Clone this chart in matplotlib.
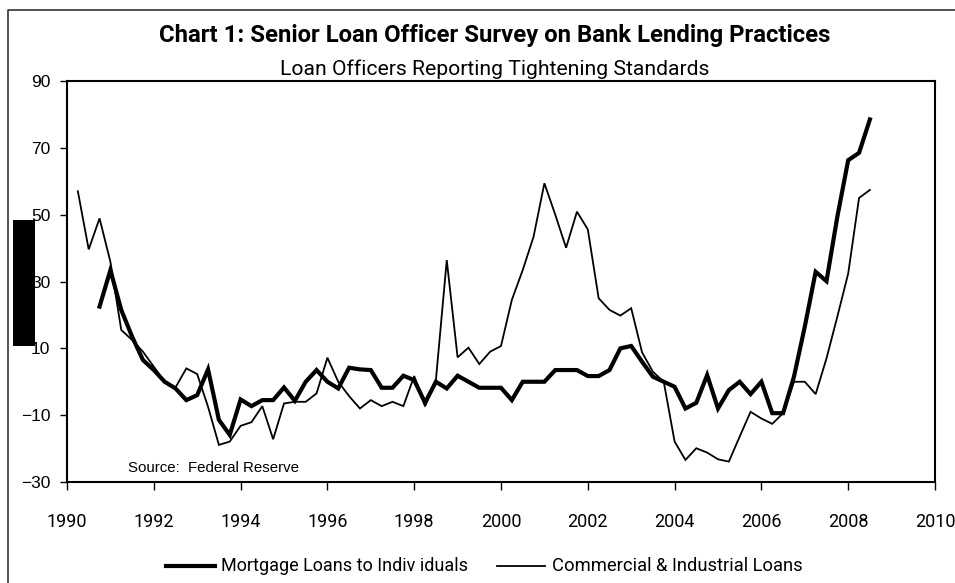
import numpy as np
import matplotlib
matplotlib.use("Agg")
import matplotlib.pyplot as plt
from matplotlib.patches import Rectangle
from matplotlib.lines import Line2D

# quarterly survey readings
mortgage_start = 1990.75
mortgage = [22.5,
            33.4, 21.5, 13.5, 6.5,
            3.5, 0, -2, -5.5,
            -4, 3.7, -11.4, -15.9,
            -5.3, -7.3, -5.5, -5.5,
            -1.7, -5.7, 0, 3.5,
            0, -2, 4.2, 3.7,
            3.5, -1.8, -1.8, 1.8,
            0.5, -6.3, 0, -2,
            1.8, 0, -1.8, -1.8,
            -1.8, -5.5, 0, 0,
            0, 3.5, 3.5, 3.5,
            1.7, 1.7, 3.5, 10,
            10.7, 6, 1.5, 0,
            -1.5, -8, -6.3, 2,
            -8, -2.5, 0, -3.7,
            0, -9.4, -9.4, 1.5,
            16.5, 32.9, 30.1, 49.4,
            66.3, 68.5, 78.5]

ci_start = 1990.25
ci_loans = [57, 39.6, 48.9,
            35.9, 15.5, 12.5, 9,
            4.5, 0, -1.7, 4,
            2.3, -7.5, -18.9, -17.9,
            -13.2, -12.1, -7.3, -17.2,
            -6.5, -6, -6, -3.5,
            7.2, 0, -4.3, -8,
            -5.5, -7.3, -6, -7.3,
            1.7, -7.3, 0.5, 36.4,
            7.3, 10.2, 5.3, 9,
            10.7, 24.5, 33.4, 43.4,
            59.4, 50, 40.1, 50.9,
            45.6, 25, 21.5, 19.8,
            22, 8.8, 3, 0,
            -17.9, -23.4, -19.9, -21.2,
            -23.2, -23.9, -16.4, -9,
            -11, -12.6, -9.4, 0,
            0, -3.7, 7, 19.5,
            32.4, 55, 57.4]

x_ticks = [1990, 1992, 1994, 1996, 1998, 2000, 2002, 2004, 2006, 2008, 2010]
y_ticks = [-30, -10, 10, 30, 50, 70, 90]

title = "Chart 1: Senior Loan Officer Survey on Bank Lending Practices"
subtitle = "Loan Officers Reporting Tightening Standards"
source = "Source:  Federal Reserve"
labels = ["Mortgage Loans to Indiv iduals", "Commercial & Industrial Loans"]

narrow = "Roboto"
regular = "Liberation Sans"

mort_x = mortgage_start + 0.25 * np.arange(len(mortgage))
ci_x = ci_start + 0.25 * np.arange(len(ci_loans))

W, H = 955, 583
fig = plt.figure(figsize=(W / 100, H / 100), dpi=100)
ax = fig.add_axes([67 / W, 1 - 482 / H, (935 - 67) / W, (482 - 81) / H])

ax.plot(ci_x, ci_loans, color="black", lw=1.3, solid_joinstyle="miter")
ax.plot(mort_x, mortgage, color="black", lw=3.0, solid_joinstyle="miter")

ax.set_xlim(1990, 2010)
ax.set_ylim(-30, 90)
ax.set_xticks(x_ticks)
ax.set_yticks(y_ticks)
for s in ax.spines.values():
    s.set_linewidth(1.5)
ax.tick_params(axis="x", direction="out", length=6, width=1, pad=16)
ax.tick_params(axis="y", direction="out", length=5, width=1, pad=7)
for t in ax.get_xticklabels():
    t.set_fontfamily(narrow)
    t.set_fontsize(13)
for t in ax.get_yticklabels():
    t.set_fontfamily(regular)
    t.set_fontsize(12.5)

ax.text(0.07, 0.025, source, transform=ax.transAxes, fontsize=10.8,
        family=regular, ha="left", va="baseline")

fig.text(495 / W, 1 - 42 / H, title, fontsize=17.2, fontweight="bold",
         family=narrow, ha="center", va="baseline")
fig.text(495 / W, 1 - 75 / H, subtitle, fontsize=15.2,
         family=narrow, ha="center", va="baseline")

# legend drawn by hand along the bottom
ly = 1 - 566 / H
fig.add_artist(Line2D([166 / W, 215 / W], [ly, ly], color="black", lw=3.0,
                      transform=fig.transFigure))
fig.text(221 / W, ly, labels[0], fontsize=13, family=narrow,
         ha="left", va="center")
fig.add_artist(Line2D([497 / W, 545 / W], [ly, ly], color="black", lw=1.3,
                      transform=fig.transFigure))
fig.text(552 / W, ly, labels[1], fontsize=13.2, family=narrow,
         ha="left", va="center")

# outer chart frame (left and top edges only visible)
fig.add_artist(Line2D([8 / W, 8 / W, 1.0], [0, 1 - 10 / H, 1 - 10 / H],
                      color="#333333", lw=1.2, transform=fig.transFigure))

# black block over the left axis labels
fig.add_artist(Rectangle((12.7 / W, 1 - 345.7 / H), 22.3 / W, 125.7 / H,
                         facecolor="black", edgecolor="none",
                         transform=fig.transFigure, zorder=10))

fig.savefig("out.png", dpi=100)
